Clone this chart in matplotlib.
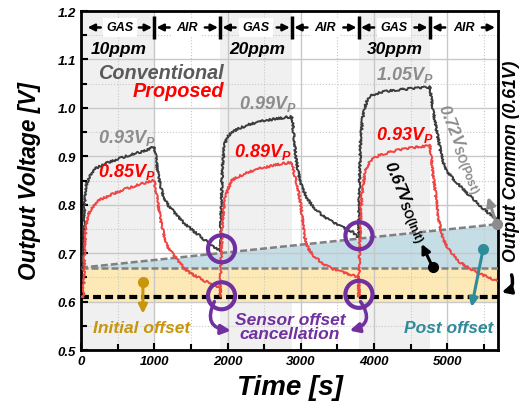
import matplotlib
matplotlib.use("Agg")
import matplotlib.pyplot as plt
from matplotlib.ticker import MultipleLocator, FixedLocator

plt.rcParams['font.family'] = ['Liberation Sans', 'DejaVu Sans']
plt.rcParams['mathtext.fontset'] = 'custom'
plt.rcParams['mathtext.rm'] = 'Liberation Sans:bold'
plt.rcParams['mathtext.it'] = 'Liberation Sans:italic:bold'
plt.rcParams['mathtext.bf'] = 'Liberation Sans:bold'

# ---------------- data ----------------
conv_t = [0, 30, 45, 60, 80, 120, 190, 280, 370, 500, 650, 750, 900, 1000,
          1020, 1050, 1080, 1130, 1200, 1300, 1400, 1500, 1600, 1700, 1800, 1900,
          1915, 1930, 1960, 2000, 2060, 2150, 2280, 2400, 2550, 2700, 2880,
          2900, 2930, 2990, 3080, 3170, 3280, 3400, 3550, 3710, 3790,
          3800, 3815, 3840, 3870, 3900, 3950, 4080, 4300, 4530, 4760,
          4780, 4810, 4850, 4900, 4940, 5000, 5080, 5215, 5330, 5443, 5560, 5680]
conv_v = [0.67, 0.67, 0.78, 0.83, 0.845, 0.86, 0.874, 0.881, 0.887, 0.894, 0.902, 0.906, 0.913, 0.92,
          0.90, 0.865, 0.84, 0.815, 0.797, 0.78, 0.763, 0.75, 0.738, 0.726, 0.715, 0.705,
          0.80, 0.88, 0.925, 0.94, 0.95, 0.957, 0.965, 0.97, 0.975, 0.978, 0.982,
          0.95, 0.90, 0.847, 0.815, 0.795, 0.78, 0.767, 0.755, 0.743, 0.732,
          0.85, 0.93, 0.975, 1.0, 1.013, 1.025, 1.032, 1.037, 1.04, 1.043,
          1.02, 0.99, 0.956, 0.915, 0.888, 0.868, 0.853, 0.832, 0.815, 0.798, 0.783, 0.768]

prop_t = [0, 35, 50, 65, 90, 130, 230, 400, 600, 800, 980, 1000,
          1020, 1055, 1090, 1123, 1168, 1220, 1283, 1350, 1419, 1500, 1600, 1700, 1828, 1900,
          1900, 1910, 1925, 1945, 1965, 2000, 2055, 2150, 2280, 2450, 2650, 2830, 2880,
          2900, 2950, 3000, 3050, 3100, 3170, 3300, 3440, 3580, 3710, 3790,
          3790, 3800, 3815, 3830, 3850, 3880, 3940, 4080, 4300, 4530, 4760,
          4780, 4800, 4840, 4880, 4940, 5030, 5170, 5300, 5445, 5560, 5680]
prop_v = [0.61, 0.61, 0.70, 0.75, 0.775, 0.79, 0.808, 0.82, 0.832, 0.842, 0.85, 0.85,
          0.83, 0.798, 0.765, 0.743, 0.718, 0.705, 0.693, 0.68, 0.667, 0.658, 0.65, 0.642, 0.633, 0.63,
          0.61, 0.68, 0.75, 0.79, 0.812, 0.83, 0.85, 0.858, 0.867, 0.875, 0.882, 0.887, 0.887,
          0.87, 0.84, 0.80, 0.735, 0.71, 0.695, 0.678, 0.667, 0.66, 0.654, 0.65,
          0.61, 0.70, 0.77, 0.81, 0.84, 0.87, 0.89, 0.903, 0.912, 0.918, 0.922,
          0.90, 0.867, 0.82, 0.77, 0.729, 0.705, 0.681, 0.668, 0.657, 0.65, 0.643]

period_edges = [0, 1000, 1900, 2880, 3790, 4760, 5690]
period_names = ['GAS', 'AIR', 'GAS', 'AIR', 'GAS', 'AIR']
conc_labels = ['10ppm', '20ppm', '30ppm']
conc_x = [520, 2400, 4280]

peak_conv_labels = ['0.93', '0.99', '1.05']
peak_conv_pos = [(630, 0.940), (2550, 1.010), (4420, 1.070)]
peak_prop_labels = ['0.85', '0.89', '0.93']
peak_prop_pos = [(630, 0.870), (2480, 0.911), (4420, 0.946)]

common_v = 0.61
init_offset_v = 0.67
post_offset_v = 0.76
x_max = 5690

xticks = [0, 1000, 2000, 3000, 4000, 5000]
yticks = [0.5, 0.6, 0.7, 0.8, 0.9, 1.0, 1.1, 1.2]

# ---------------- figure ----------------
fig = plt.figure(figsize=(5.31, 4.10), dpi=100)
ax = fig.add_axes([0.1525, 0.1439, 0.7853, 0.8268])
ax.set_xlim(0, x_max)
ax.set_ylim(0.5, 1.2)
ax.set_axisbelow('line')

BI = dict(fontweight='bold', fontstyle='italic')

# gas shading
for i in range(0, len(period_edges) - 1, 2):
    ax.axvspan(period_edges[i], period_edges[i + 1], color='#f0f0f0', zorder=0.5, lw=0)

# offset bands
ax.fill_between([0, x_max], [0.60, 0.60], [init_offset_v, init_offset_v],
                color='#fce9b6', lw=0, zorder=0.8)
ax.fill_between([0, x_max], [init_offset_v, init_offset_v], [init_offset_v, post_offset_v],
                color='#c5dde5', lw=0, zorder=0.8)

# grid
ax.xaxis.set_major_locator(FixedLocator(xticks))
ax.xaxis.set_minor_locator(MultipleLocator(500))
ax.yaxis.set_major_locator(FixedLocator(yticks))
ax.yaxis.set_minor_locator(MultipleLocator(0.05))
ax.grid(which='major', color='#c8c8c8', lw=1.0, ls='-')
ax.grid(which='minor', color='#c8c8c8', lw=0.8, ls=':')
ax.tick_params(which='both', direction='in', width=1.5, colors='k')
ax.tick_params(which='major', length=5)
ax.tick_params(which='minor', length=4)
ax.set_xticklabels([str(v) for v in xticks], fontsize=9.5, **BI)
ax.set_yticklabels(['%.1f' % v for v in yticks], fontsize=9.5, **BI)
for s in ax.spines.values():
    s.set_linewidth(2)

# dashed reference lines
ax.plot([0, x_max], [init_offset_v, post_offset_v], color='#808080', lw=1.8,
        dashes=(2.8, 1.2), zorder=3)
ax.plot([0, x_max], [init_offset_v, init_offset_v], color='#808080', lw=1.8,
        dashes=(2.8, 1.2), zorder=3)
ax.plot([0, x_max], [common_v, common_v], color='k', lw=3, dashes=(1.9, 1.0), zorder=3)

# curves (sketch params only add visual measurement-noise texture)
l1, = ax.plot(conv_t, conv_v, color='#3c3c3c', lw=1.4, zorder=4)
l2, = ax.plot(prop_t, prop_v, color='#f04545', lw=1.4, zorder=4)
for ln in (l1, l2):
    ln.set_sketch_params(scale=1.0, length=1.0, randomness=2)

# top GAS / AIR row
bar_y0, bar_y1, row_y = 1.143, 1.189, 1.166
for xe in period_edges[1:-1]:
    ax.plot([xe, xe], [bar_y0, bar_y1], color='k', lw=2.5, zorder=6, solid_capstyle='butt')
for i, name in enumerate(period_names):
    a, b = period_edges[i], period_edges[i + 1]
    la = a + (90 if i == 0 else 30)
    rb = b - (40 if i == len(period_names) - 1 else 30)
    ax.annotate('', xy=(la, row_y), xytext=(la + 180, row_y),
                arrowprops=dict(arrowstyle='-|>', color='k', lw=1.8, mutation_scale=10,
                                shrinkA=0, shrinkB=0), zorder=6)
    ax.annotate('', xy=(rb, row_y), xytext=(rb - 180, row_y),
                arrowprops=dict(arrowstyle='-|>', color='k', lw=1.8, mutation_scale=10,
                                shrinkA=0, shrinkB=0), zorder=6)
    ax.text((la + rb) / 2, row_y, name, ha='center', va='center', fontsize=9, zorder=7,
            bbox=dict(facecolor='white', edgecolor='none', pad=2.5), **BI)

for lab, xc in zip(conc_labels, conc_x):
    ax.text(xc, 1.122, lab, ha='center', va='center', fontsize=12.5, color='k', zorder=7, **BI)

ax.text(1950, 1.074, 'Conventional', ha='right', va='center', fontsize=14.3,
        color='#5a5a5a', zorder=7, **BI)
ax.text(1950, 1.035, 'Proposed', ha='right', va='center', fontsize=14.3,
        color='#ff0000', zorder=7, **BI)

for lab, (x, y) in zip(peak_conv_labels, peak_conv_pos):
    ax.text(x, y, lab + r'V$_{\mathit{P}}$', ha='center', va='center', fontsize=13,
            color='#8c8c8c', zorder=7, **BI)
for lab, (x, y) in zip(peak_prop_labels, peak_prop_pos):
    ax.text(x, y, lab + r'V$_{\mathit{P}}$', ha='center', va='center', fontsize=13,
            color='#ff0000', zorder=7, **BI)

# rotated offset labels
ax.text(4393, 0.806, r'0.67V$_{\mathrm{SO(Init)}}$', rotation=-67, rotation_mode='anchor',
        ha='center', va='center', fontsize=12, color='k', zorder=7, **BI)
ax.text(5150, 0.915, r'0.72V$_{\mathrm{SO(Post)}}$', rotation=-68, rotation_mode='anchor',
        ha='center', va='center', fontsize=12, color='#8c8c8c', zorder=7, **BI)

# small arrows with dots
def dot_arrow(x0, y0, x1, y1, color):
    ax.annotate('', xy=(x1, y1), xytext=(x0, y0),
                arrowprops=dict(arrowstyle='-|>', color=color, lw=2.2, mutation_scale=13,
                                shrinkA=0, shrinkB=0), zorder=8, annotation_clip=False)
    ax.plot([x0], [y0], 'o', color=color, ms=7, zorder=8, clip_on=False)

dot_arrow(4800, 0.671, 4648, 0.719, 'k')
dot_arrow(5670, 0.760, 5553, 0.816, '#8c8c8c')
dot_arrow(845, 0.640, 845, 0.575, '#c8960c')
dot_arrow(5488, 0.709, 5330, 0.589, '#2e8b9a')

# purple circles
purple = '#7030a0'
circ_x = [1918, 1918, 3793, 3793]
circ_y = [0.709, 0.612, 0.736, 0.615]
ax.scatter(circ_x, circ_y, s=380, facecolors='none', edgecolors=purple, linewidths=3, zorder=9)
ax.annotate('', xy=(2045, 0.540), xytext=(1820, 0.600),
            arrowprops=dict(arrowstyle='-|>', color=purple, lw=2.5, mutation_scale=14,
                            connectionstyle='arc3,rad=0.7', shrinkA=0, shrinkB=0), zorder=9)
ax.annotate('', xy=(3665, 0.540), xytext=(3815, 0.600),
            arrowprops=dict(arrowstyle='-|>', color=purple, lw=2.5, mutation_scale=14,
                            connectionstyle='arc3,rad=-0.7', shrinkA=0, shrinkB=0), zorder=9)

ax.text(2850, 0.548, 'Sensor offset\ncancellation', ha='center', va='center', fontsize=12.5,
        color=purple, linespacing=0.95, zorder=9, **BI)
ax.text(820, 0.547, 'Initial offset', ha='center', va='center', fontsize=12.5,
        color='#c8960c', zorder=9, **BI)
ax.text(5010, 0.547, 'Post offset', ha='center', va='center', fontsize=12.5,
        color='#2e8b9a', zorder=9, **BI)

# right side label + curved arrow
fig.text(512 / 531, 1 - 161 / 410, 'Output Common (0.61V)', rotation=90, ha='center',
         va='center', fontsize=12.7, color='k', **BI)
ax.annotate('', xy=(5740, 0.619), xytext=(5876, 0.655),
            arrowprops=dict(arrowstyle='-|>', color='k', lw=2.5, mutation_scale=13,
                            connectionstyle='arc3,rad=-0.5', shrinkA=0, shrinkB=0),
            zorder=9, annotation_clip=False)

ax.set_xlabel('Time [s]', fontsize=20, labelpad=5, **BI)
ax.set_ylabel('Output Voltage [V]', fontsize=16.3, labelpad=12, **BI)

fig.savefig('out.png', dpi=100)
